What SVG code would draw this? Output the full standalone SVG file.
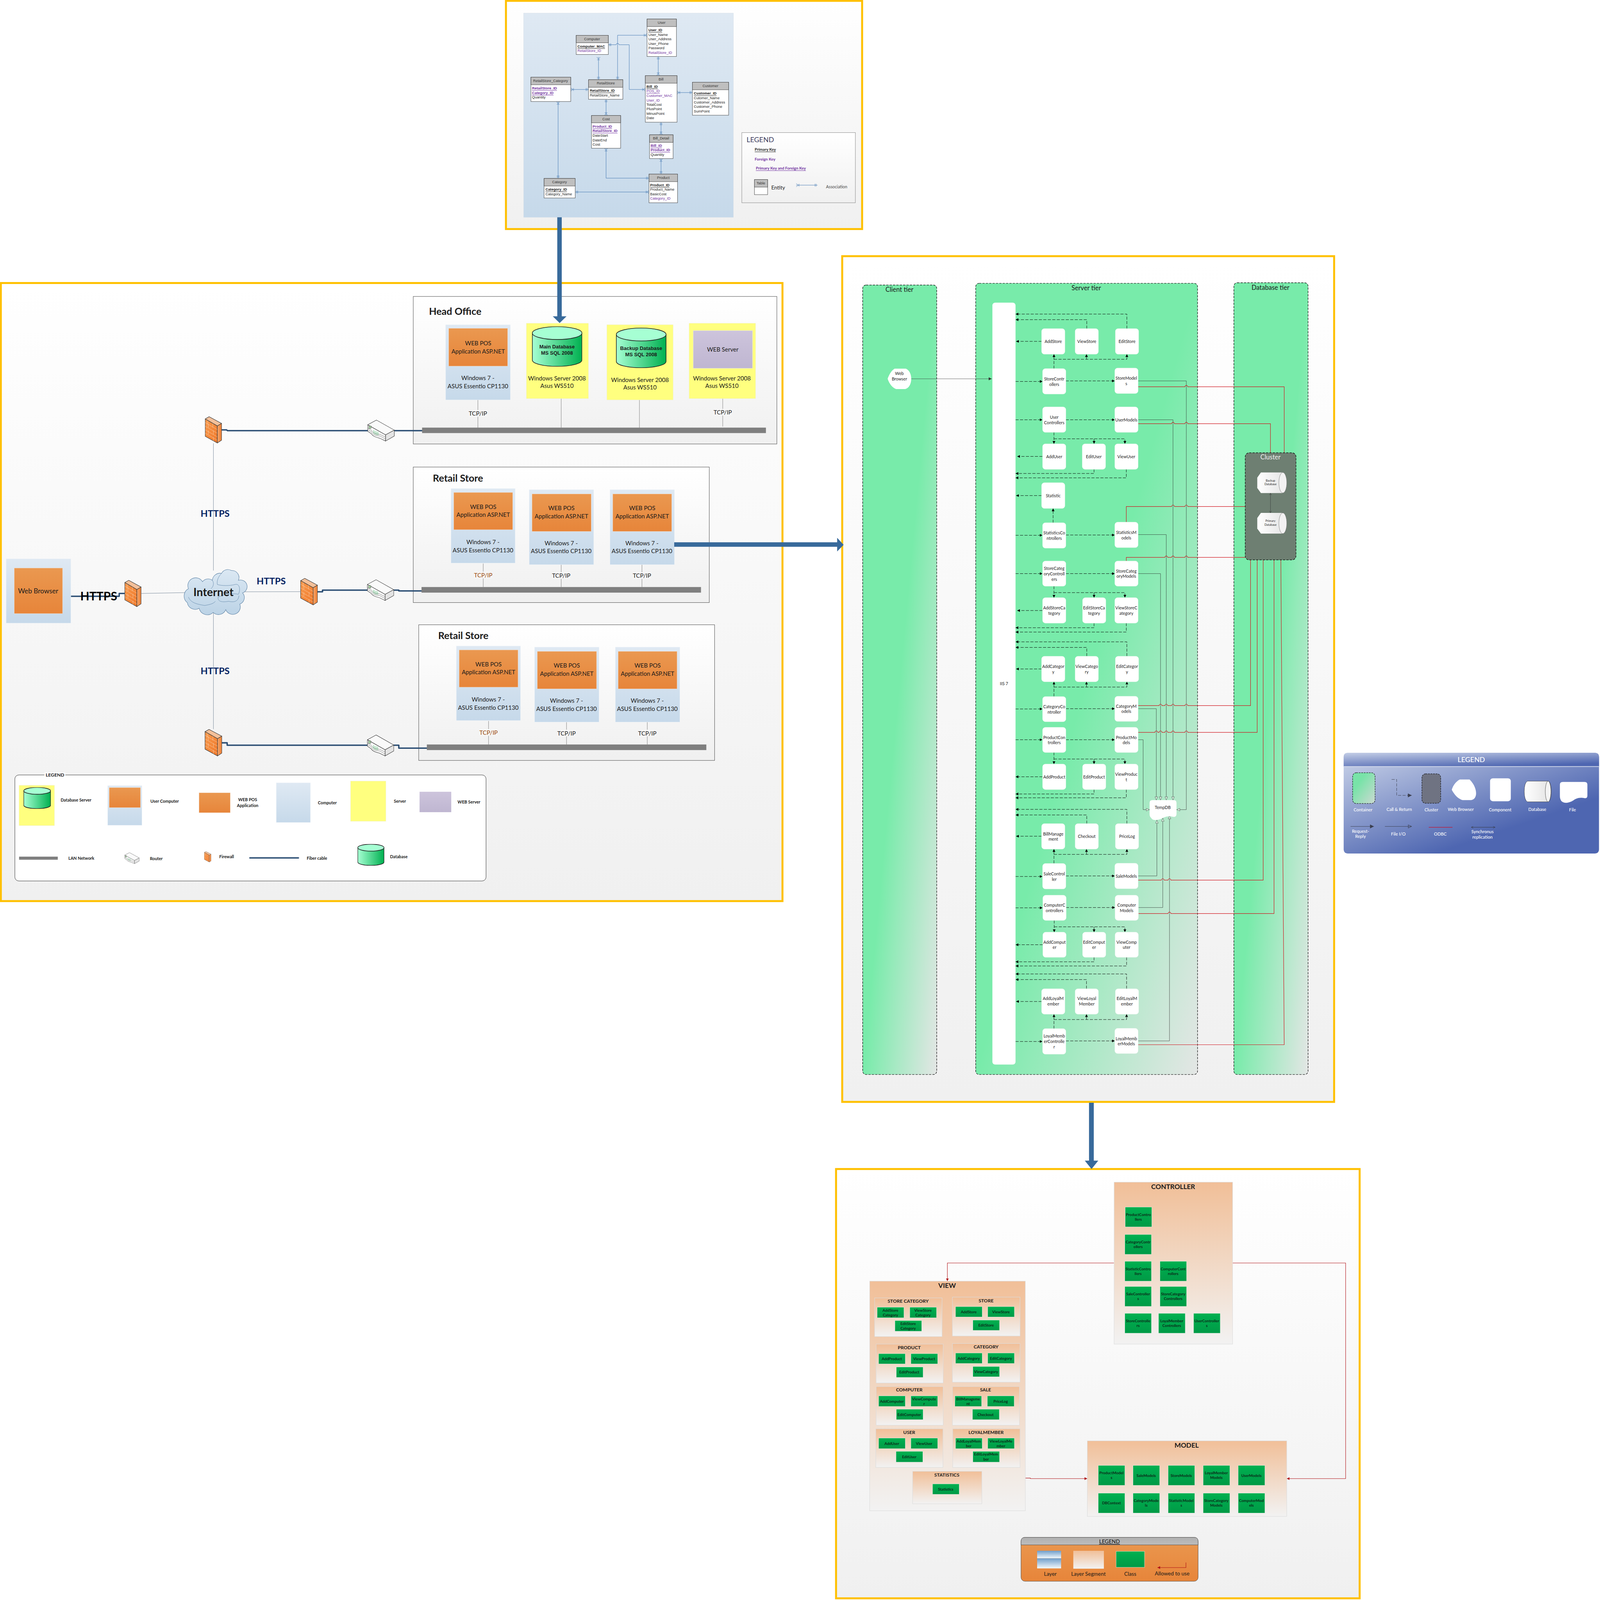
<svg xmlns="http://www.w3.org/2000/svg" width="5705" height="5721" viewBox="0 0 5705 5721" preserveAspectRatio="none">
<style>
:root{width:100vw;height:100vh}
text{font-family:Lato,"Liberation Sans",sans-serif;text-anchor:middle;dominant-baseline:central;fill:#1a1a1a}
.frame{stroke:#ffc000;stroke-width:7;fill:url(#gFrame)}
.zone{fill:url(#gFrame);stroke:#555;stroke-width:1.5}
.pc{fill:url(#gPc);stroke:#eef3f8;stroke-width:1}
.or{fill:url(#gOr);stroke:#f3d9c2;stroke-width:1}
.yl{fill:#ffff7f;stroke:#eeeecc;stroke-width:1}
.n{font-size:21px}
.nb{font-size:18px;font-weight:700;font-family:"Liberation Sans",sans-serif}
.lbl{font-size:21px}
.tit{font-size:35px;font-weight:700}
.https{font-size:33px;font-weight:700;fill:#002060}
.lg{font-size:15px;font-weight:700}
.tb{fill:#fff;stroke:#333;stroke-width:1.2}
.th{fill:#bfbfbf;stroke:#333;stroke-width:1.2}
.e{font-family:"Liberation Sans",sans-serif;font-size:13px;text-anchor:start}
.eh{font-family:"Liberation Sans",sans-serif;font-size:13px;fill:#333}
.pk{font-weight:700;text-decoration:underline}
.fk{fill:#7030a0}
.ul{text-decoration:underline}
.er{fill:none;stroke:#3f75b0;stroke-width:1.3;marker-start:var(--s);marker-end:var(--e)}
.lan{fill:#7f7f7f}
.fib{fill:none;stroke:#2a4d73;stroke-width:5;stroke-linecap:round;stroke-linejoin:round}
.thin{fill:none;stroke:#4a6079;stroke-width:1}
.tcp{fill:none;stroke:#555;stroke-width:1}
.bg{fill:#f6f6f6}
.tier{fill:url(#gTier);stroke:#000;stroke-width:1.6;stroke-dasharray:8 4}
.cp{fill:#fff;stroke:#eef7f1;stroke-width:1}
.c{font-size:15px}
.ds{fill:none;stroke:#000;stroke-width:1.3;stroke-dasharray:11 5;marker-end:url(#aB)}
.so{fill:none;stroke:#222;stroke-width:1;marker-end:url(#aH)}
.rd{fill:none;stroke:#d0141e;stroke-width:1.6}
.seg{fill:url(#gSeg);stroke:#dcdcdc;stroke-width:1.5}
.cl{fill:url(#gCl);stroke:#e4efe6;stroke-width:1}
.g{font-size:13.5px;font-weight:700;fill:#0b2a18}
.st{font-size:17px;font-weight:700}
.big{font-size:24px;font-weight:700}
.mv{fill:none;stroke:#b01116;stroke-width:1.5;marker-end:url(#aR)}
.w{fill:#fff;font-size:15.5px;font-weight:500}
.thick{fill:#386a9b}
</style>
<defs>
<linearGradient id="gFrame" x1="0" y1="0" x2="0" y2="1"><stop offset="0" stop-color="#fff"/><stop offset="1" stop-color="#f0f0f0"/></linearGradient>
<linearGradient id="gPc" x1="0" y1="0" x2="0" y2="1"><stop offset="0" stop-color="#dfe9f3"/><stop offset="1" stop-color="#c6d9ea"/></linearGradient>
<linearGradient id="gOr" x1="0" y1="0" x2="0" y2="1"><stop offset="0" stop-color="#ea9850"/><stop offset="1" stop-color="#e7853a"/></linearGradient>
<linearGradient id="gPu" x1="0" y1="0" x2="0" y2="1"><stop offset="0" stop-color="#cdc4dc"/><stop offset="1" stop-color="#bfb6d1"/></linearGradient>
<linearGradient id="gCy" x1="0" y1="0" x2="1" y2="0"><stop offset="0" stop-color="#a6ffd3"/><stop offset="1" stop-color="#00b050"/></linearGradient>
<linearGradient id="gTier" x1="0" y1="0" x2="1" y2="1"><stop offset="0.5" stop-color="#78ebaa"/><stop offset="1" stop-color="#e4e6e5"/></linearGradient>
<linearGradient id="gSeg" x1="0" y1="0" x2="0" y2="1"><stop offset="0" stop-color="#f1bf98"/><stop offset="1" stop-color="#f2f2f2"/></linearGradient>
<linearGradient id="gCl" x1="0" y1="0" x2="0" y2="1"><stop offset="0" stop-color="#00b050"/><stop offset="1" stop-color="#009a46"/></linearGradient>
<linearGradient id="gBl" x1="0" y1="0" x2="0.65" y2="0.75"><stop offset="0" stop-color="#ccd5ea"/><stop offset="1" stop-color="#4e66b1"/></linearGradient>
<linearGradient id="gBh" x1="0" y1="0" x2="0.6" y2="1"><stop offset="0" stop-color="#c3cde6"/><stop offset="1" stop-color="#4e66b1"/></linearGradient>
<linearGradient id="gLg" x1="0" y1="0" x2="1" y2="1"><stop offset="0.3" stop-color="#78e3a8"/><stop offset="1" stop-color="#ccd9d2"/></linearGradient>
<linearGradient id="gDb" x1="0" y1="0" x2="1" y2="0"><stop offset="0" stop-color="#fff"/><stop offset="1" stop-color="#e2e2e2"/></linearGradient>
<linearGradient id="gLy" x1="0" y1="0" x2="0" y2="1"><stop offset="0" stop-color="#6f9ecb"/><stop offset="1" stop-color="#f2f8fc"/></linearGradient>
<linearGradient id="gGy" x1="0" y1="0" x2="0" y2="1"><stop offset="0" stop-color="#b0b0b0"/><stop offset="1" stop-color="#bdbdbd"/></linearGradient>
<linearGradient id="gFw" x1="0" y1="0" x2="1" y2="1"><stop offset="0" stop-color="#f79a4e"/><stop offset="1" stop-color="#f0782a"/></linearGradient>
<linearGradient id="gFs" x1="0" y1="0" x2="1" y2="0"><stop offset="0" stop-color="#f5a76e"/><stop offset="1" stop-color="#ee7d30"/></linearGradient>
<linearGradient id="gCloud" x1="0" y1="0" x2="0" y2="1"><stop offset="0" stop-color="#dbe8f3"/><stop offset="1" stop-color="#bcd3e6"/></linearGradient>
<marker id="aB" viewBox="0 0 10 10" refX="10" refY="5" markerWidth="10" markerHeight="10" markerUnits="userSpaceOnUse" orient="auto"><path d="M0 0L10 5L0 10Z" fill="#000"/></marker>
<marker id="aS" viewBox="0 0 10 10" refX="10" refY="5" markerWidth="11" markerHeight="11" markerUnits="userSpaceOnUse" orient="auto"><path d="M0 0L10 5L0 10Z" fill="#333"/></marker>
<marker id="aH" viewBox="0 0 12 10" refX="12" refY="5" markerWidth="13" markerHeight="11" markerUnits="userSpaceOnUse" orient="auto"><path d="M1 0.5L11.5 5L1 9.5Z" fill="#d5ecdc" stroke="#333" stroke-width="0.8"/></marker>
<marker id="aR" viewBox="0 0 10 10" refX="10" refY="5" markerWidth="10" markerHeight="10" markerUnits="userSpaceOnUse" orient="auto"><path d="M0 0L10 5L0 10Z" fill="#b01116"/></marker>
<marker id="aW" viewBox="0 0 10 10" refX="10" refY="5" markerWidth="14" markerHeight="14" markerUnits="userSpaceOnUse" orient="auto"><path d="M0 0L10 5L0 10Z" fill="#3b3f4f"/></marker>
<marker id="aO" viewBox="0 0 10 10" refX="10" refY="5" markerWidth="14" markerHeight="14" markerUnits="userSpaceOnUse" orient="auto"><path d="M1 1L9.5 5L1 9Z" fill="none" stroke="#3b3f4f"/></marker>
<marker id="aL" viewBox="0 0 10 10" refX="9" refY="5" markerWidth="9" markerHeight="9" markerUnits="userSpaceOnUse" orient="auto-start-reverse"><path d="M1 1L9 5L1 9" fill="none" stroke="#333"/></marker>
<marker id="mOne" viewBox="0 0 14 14" refX="14" refY="7" markerWidth="14" markerHeight="14" markerUnits="userSpaceOnUse" orient="auto-start-reverse"><path d="M5 2V12M9 2V12" fill="none" stroke="#3f75b0" stroke-width="1.1"/></marker>
<marker id="mMany" viewBox="0 0 14 14" refX="14" refY="7" markerWidth="14" markerHeight="14" markerUnits="userSpaceOnUse" orient="auto-start-reverse"><path d="M14 1L6 7L14 13M4 2V12" fill="none" stroke="#3f75b0" stroke-width="1.1"/></marker>
<symbol id="fw" viewBox="0 0 60 96" preserveAspectRatio="none">
<path d="M15 1L59 25L44 34L1 9Z" fill="#f3c09a" stroke="#3b3b3b" stroke-width="1.6"/>
<path d="M1 9L44 34V95L1 71Z" fill="url(#gFw)" stroke="#3b3b3b" stroke-width="1.6"/>
<path d="M44 34L59 25V85L44 95Z" fill="url(#gFs)" stroke="#3b3b3b" stroke-width="1.6"/>
<path d="M1 22L44 47M1 35L44 60M1 48L44 73M1 60L44 85M10 15V28M28 25V40M12 27V40M30 50V64M12 50V64M30 74V88" fill="none" stroke="#fbe0c4" stroke-width="0.9"/>
</symbol>
<symbol id="rt" viewBox="0 0 96 77" preserveAspectRatio="none">
<path d="M32 1L95 37L64 54L1 18Z" fill="#fafafa" stroke="#333" stroke-width="1.4"/>
<path d="M95 37V58L64 76V54Z" fill="#e4e4e4" stroke="#333" stroke-width="1.4"/>
<path d="M1 18L64 54V76L44 66C30 62 20 60 14 50L1 41Z" fill="#fff" stroke="#333" stroke-width="1.4"/>
<path d="M1 30L14 37C20 48 30 52 44 52L64 62M1 35L14 43C20 54 30 57 44 58L64 69" fill="none" stroke="#444"/>
<rect x="5" y="22" width="8" height="9" fill="#a9d6a5" stroke="#333"/>
<path d="M22 37V49M26 39V52M30 41V54M34 42V55M38 43V55" stroke="#21a04a" fill="none"/>
</symbol>
<symbol id="cy" viewBox="0 0 180 144" preserveAspectRatio="none">
<path d="M1 24V120C1 133 41 143 90 143S179 133 179 120V24Z" fill="url(#gCy)" stroke="#222" stroke-width="1.6" vector-effect="non-scaling-stroke"/>
<ellipse cx="90" cy="24" rx="89" ry="23" fill="#a6ffd3" stroke="#222" stroke-width="1.6" vector-effect="non-scaling-stroke"/>
</symbol>
</defs>
<rect width="5705" height="5721" fill="#fff"/>

<g id="frames">
<rect class="frame" x="1804" y="3" width="1270" height="816"/>
<rect class="frame" x="3" y="1012" width="2787" height="2210"/>
<rect class="frame" x="3003" y="916" width="1754" height="3024"/>
<rect class="frame" x="2981" y="4180" width="1867" height="1535"/>
</g>

<!-- ER -->
<g id="er-panel"><rect x="1867" y="47" width="748" height="730" fill="url(#gPc)" stroke="#d5dee8"/></g>
<g id="er-connectors">
<path class="er" style="--s:url(#mOne);--e:url(#mMany)" d="M2169 160H2197a5 5 0 0 1 10 0H2243.6V320H2301"/>
<path class="er" style="--s:url(#mOne);--e:url(#mMany)" d="M2202 285V126H2307"/>
<path class="er" style="--s:url(#mMany);--e:url(#mOne)" d="M2134 204V285"/>
<path class="er" style="--s:url(#mOne);--e:url(#mMany)" d="M2347 202V270.5"/>
<path class="er" style="--s:url(#mMany);--e:url(#mOne)" d="M2035 320H2098.5"/>
<path class="er" style="--s:url(#mMany);--e:url(#mOne)" d="M2414 331H2469"/>
<path class="er" style="--s:url(#mOne);--e:url(#mMany)" d="M2161 355V413"/>
<path class="er" style="--s:url(#mOne);--e:url(#mMany)" d="M2357 437V482"/>
<path class="er" style="--s:url(#mMany);--e:url(#mOne)" d="M2357 567V622.5"/>
<path class="er" style="--s:url(#mMany);--e:url(#mOne)" d="M2161 530V637H2314"/>
<path class="er" style="--s:url(#mMany);--e:url(#mOne)" d="M1990 363V638"/>
<path class="er" style="--s:url(#mOne);--e:url(#mMany)" d="M2051 686.6H2314"/>
</g>
<g id="er-user"><rect class="tb" x="2307" y="68" width="105" height="134"/><rect class="th" x="2307" y="68" width="105" height="27"/><text class="eh" x="2359" y="81">User</text><text class="e pk" x="2312" y="108">User_ID</text><text class="e" x="2312" y="124">User_Name</text><text class="e" x="2312" y="140">User_Address</text><text class="e" x="2312" y="156">User_Phone</text><text class="e" x="2312" y="172">Password</text><text class="e fk" x="2312" y="188">RetailStore_ID</text></g>
<g id="er-computer"><rect class="tb" x="2054.5" y="126.5" width="114.5" height="68.5"/><rect class="th" x="2054.5" y="126.5" width="114.5" height="26.5"/><text class="eh" x="2111" y="139">Computer</text><text class="e pk" x="2059" y="166">Computer_MAC</text><text class="e fk" x="2059" y="181.6">RetailStore_ID</text></g>
<g id="er-rscat"><rect class="tb" x="1893" y="276" width="142" height="87"/><rect class="th" x="1893" y="276" width="142" height="27"/><text class="eh" x="1963" y="289.5">RetailStore_Category</text><text class="e pk fk" x="1897" y="316">RetailStore_ID</text><text class="e pk fk" x="1897" y="332.5">Category_ID</text><text class="e" x="1897" y="348">Quantity</text></g>
<g id="er-retailstore"><rect class="tb" x="2098.5" y="285" width="122.5" height="70"/><rect class="th" x="2098.5" y="285" width="122.5" height="27"/><text class="eh" x="2160" y="298">RetailStore</text><text class="e pk" x="2103" y="324.5">RetailStore_ID</text><text class="e" x="2103" y="340.5">RetailStore_Name</text></g>
<g id="er-bill"><rect class="tb" x="2301" y="270.5" width="113" height="166.5"/><rect class="th" x="2301" y="270.5" width="113" height="27"/><text class="eh" x="2357" y="283.5">Bill</text><text class="e pk" x="2305" y="310">Bill_ID</text><text class="e fk ul" x="2305" y="326">POS_ID</text><text class="e fk" x="2305" y="342.5">Customer_MAC</text><text class="e fk" x="2305" y="358.4">User_ID</text><text class="e" x="2305" y="374">TotalCost</text><text class="e" x="2305" y="390">PlusPoint</text><text class="e" x="2305" y="406">MinusPoint</text><text class="e" x="2305" y="422.5">Date</text></g>
<g id="er-customer"><rect class="tb" x="2469" y="294" width="129" height="118"/><rect class="th" x="2469" y="294" width="129" height="27"/><text class="eh" x="2533" y="307.5">Customer</text><text class="e pk" x="2474" y="334.5">Customer_ID</text><text class="e" x="2474" y="350.5">Cutomer_Name</text><text class="e" x="2474" y="366">Customer_Address</text><text class="e" x="2474" y="382">Customer_Phone</text><text class="e" x="2474" y="398">SumPoint</text></g>
<g id="er-cost"><rect class="tb" x="2109" y="413" width="104" height="117"/><rect class="th" x="2109" y="413" width="104" height="26"/><text class="eh" x="2161" y="426">Cost</text><text class="e pk fk" x="2113" y="452.6">Product_ID</text><text class="e pk fk" x="2113" y="468.5">RetailStore_ID</text><text class="e" x="2113" y="485">DateStart</text><text class="e" x="2113" y="501">DateEnd</text><text class="e" x="2113" y="516.7">Cost</text></g>
<g id="er-billdetail"><rect class="tb" x="2316" y="482" width="84" height="85"/><rect class="th" x="2316" y="482" width="84" height="27"/><text class="eh" x="2357" y="495">Bill_Detail</text><text class="e pk fk" x="2320" y="521.5">Bill_ID</text><text class="e pk fk" x="2320" y="537">Product_ID</text><text class="e" x="2320" y="553">Quantity</text></g>
<g id="er-product"><rect class="tb" x="2314" y="622.5" width="102" height="102.5"/><rect class="th" x="2314" y="622.5" width="102" height="27"/><text class="eh" x="2365" y="635.5">Product</text><text class="e pk" x="2318" y="662">Product_ID</text><text class="e" x="2318" y="678">Product_Name</text><text class="e" x="2318" y="694.5">BasicCost</text><text class="e fk" x="2318" y="710">Category_ID</text></g>
<g id="er-category"><rect class="tb" x="1940" y="638" width="111" height="70"/><rect class="th" x="1940" y="638" width="111" height="27"/><text class="eh" x="1995" y="651.5">Category</text><text class="e pk" x="1945" y="678">Category_ID</text><text class="e" x="1945" y="694.5">Category_Name</text></g>
<g id="er-legend">
<rect x="2645" y="474" width="405" height="251" fill="url(#gFrame)" stroke="#777" stroke-width="1.2"/>
<text x="2662" y="499" font-size="25" style="text-anchor:start;fill:#3b3b5c">LEGEND</text>
<text x="2691" y="534" font-size="14" font-weight="700" class="ul" style="text-anchor:start">Primary Key</text>
<text x="2691" y="568" font-size="14" font-weight="700" class="fk" style="text-anchor:start">Foreign Key</text>
<text x="2695" y="601" font-size="14" font-weight="700" class="fk ul" style="text-anchor:start">Primary Key and Foreign Key</text>
<rect class="tb" x="2690" y="642" width="47" height="54"/><rect class="th" x="2690" y="642" width="47" height="27"/>
<text class="eh" x="2713" y="655">Table</text>
<text x="2750" y="670" font-size="19" style="text-anchor:start">Entity</text>
<path class="er" style="--s:url(#mMany);--e:url(#mOne)" d="M2839 662H2915"/>
<text x="2983" y="667" font-size="15" fill="#444" style="fill:#444">Association</text>
</g>

<!-- Network -->
<g id="hq-zone"><rect class="zone" x="1473.5" y="1060" width="1296.5" height="527.5"/><text class="tit" x="1623" y="1111.5">Head Office</text></g>
<g id="rs1-zone"><rect class="zone" x="1473.5" y="1670" width="1055.5" height="484.5"/><text class="tit" x="1633" y="1708">Retail Store</text></g>
<g id="rs2-zone"><rect class="zone" x="1493" y="2234" width="1055" height="485"/><text class="tit" x="1652" y="2271">Retail Store</text></g>

<g id="net-connectors">
<path class="fib" d="M789 1537H808L811 1540H1311M1407 1540H1505"/>
<path class="fib" d="M1130 2116H1150V2110H1309M1405 2110H1422V2113H1503"/>
<path class="fib" d="M792 2656H810V2664.5H1309M1405 2664.5H1422V2675H1524"/>
<path class="fib" d="M250 2132H425V2122H444"/>
<path class="thin" d="M761 1585V2040M761 2190V2607M504 2122L659 2119M870 2116L1071 2115.6"/>
<path class="tcp" d="M1704 1430V1530M2001 1425V1530M2280 1430V1530M2577 1425V1525M1723 2015V2099M2001 2019V2099M2289 2019V2099M1742 2578V2662M2020 2582V2662M2308 2582V2662"/>
</g>
<g id="hq-pc"><rect class="pc" x="1589" y="1161" width="231" height="269"/><rect class="or" x="1600" y="1174" width="210" height="135"/><text class="n" x="1705" y="1226">WEB POS</text><text class="n" x="1705" y="1256">Application ASP.NET</text><text class="n" x="1704" y="1351">Windows 7 -</text><text class="n" x="1704" y="1380">ASUS Essentio CP1130</text></g>
<g id="hq-maindb"><rect class="yl" x="1877" y="1156" width="221" height="269"/><use href="#cy" x="1897" y="1167" width="179" height="144"/><text class="nb" x="1986" y="1239.5">Main Database</text><text class="nb" x="1986" y="1262">MS SQL 2008</text><text class="n" x="1986" y="1352">Windows Server 2008</text><text class="n" x="1986" y="1379">Asus WS510</text></g>
<g id="hq-backupdb"><rect class="yl" x="2164" y="1161" width="236" height="269"/><use href="#cy" x="2196.5" y="1172" width="179.5" height="144"/><text class="nb" x="2286" y="1245">Backup Database</text><text class="nb" x="2286" y="1268">MS SQL 2008</text><text class="n" x="2282" y="1358">Windows Server 2008</text><text class="n" x="2282" y="1384">Asus WS510</text></g>
<g id="hq-webserver"><rect class="yl" x="2457" y="1156" width="237" height="269"/><rect x="2472" y="1182" width="211" height="135" fill="url(#gPu)" stroke="#e9e6ef"/><text class="n" x="2577" y="1249">WEB Server</text><text class="n" x="2574" y="1352">Windows Server 2008</text><text class="n" x="2574" y="1378">Asus WS510</text></g>
<g id="hq-lan"><rect class="lan" x="1505" y="1529" width="1226" height="19.5"/></g>
<rect class="bg" x="1672" y="1466" width="64" height="24"/><text class="lbl" x="1704" y="1478">TCP/IP</text>
<rect class="bg" x="2545" y="1462" width="64" height="24"/><text class="lbl" x="2577" y="1474">TCP/IP</text>

<g id="rs1-pc1"><rect class="pc" x="1608" y="1747" width="229" height="266.5"/><rect class="or" x="1618" y="1761" width="210" height="133"/><text class="n" x="1723" y="1812">WEB POS</text><text class="n" x="1723" y="1840">Application ASP.NET</text><text class="n" x="1722" y="1937">Windows 7 -</text><text class="n" x="1722" y="1966">ASUS Essentio CP1130</text></g>
<g id="rs1-pc2"><rect class="pc" x="1887" y="1751" width="230" height="268"/><rect class="or" x="1897" y="1766" width="211" height="134"/><text class="n" x="2002" y="1816">WEB POS</text><text class="n" x="2002" y="1845">Application ASP.NET</text><text class="n" x="2001" y="1942">Windows 7 -</text><text class="n" x="2001" y="1970">ASUS Essentio CP1130</text></g>
<g id="rs1-pc3"><rect class="pc" x="2175" y="1751" width="230" height="268"/><rect class="or" x="2185" y="1766" width="210" height="134"/><text class="n" x="2290" y="1816">WEB POS</text><text class="n" x="2290" y="1845">Application ASP.NET</text><text class="n" x="2289" y="1942">Windows 7 -</text><text class="n" x="2289" y="1970">ASUS Essentio CP1130</text></g>
<g id="rs1-lan"><rect class="lan" x="1503" y="2099" width="996.5" height="20"/></g>
<rect class="bg" x="1691" y="2044" width="64" height="24"/><text class="lbl" style="fill:#984806" x="1723" y="2056">TCP/IP</text>
<rect class="bg" x="1969" y="2046" width="64" height="24"/><text class="lbl" x="2001" y="2058">TCP/IP</text>
<rect class="bg" x="2257" y="2046" width="64" height="24"/><text class="lbl" x="2289" y="2058">TCP/IP</text>

<g id="rs2-pc1"><rect class="pc" x="1627" y="2310" width="229" height="266.5"/><rect class="or" x="1637" y="2324" width="210" height="133"/><text class="n" x="1742" y="2375">WEB POS</text><text class="n" x="1742" y="2403">Application ASP.NET</text><text class="n" x="1741" y="2500">Windows 7 -</text><text class="n" x="1741" y="2529">ASUS Essentio CP1130</text></g>
<g id="rs2-pc2"><rect class="pc" x="1906" y="2314" width="230" height="268"/><rect class="or" x="1916" y="2329" width="211" height="134"/><text class="n" x="2021" y="2379">WEB POS</text><text class="n" x="2021" y="2408">Application ASP.NET</text><text class="n" x="2020" y="2505">Windows 7 -</text><text class="n" x="2020" y="2533">ASUS Essentio CP1130</text></g>
<g id="rs2-pc3"><rect class="pc" x="2194" y="2314" width="230" height="268"/><rect class="or" x="2204" y="2329" width="210" height="134"/><text class="n" x="2309" y="2379">WEB POS</text><text class="n" x="2309" y="2408">Application ASP.NET</text><text class="n" x="2308" y="2505">Windows 7 -</text><text class="n" x="2308" y="2533">ASUS Essentio CP1130</text></g>
<g id="rs2-lan"><rect class="lan" x="1522" y="2662" width="996.5" height="20"/></g>
<rect class="bg" x="1710" y="2607" width="64" height="24"/><text class="lbl" style="fill:#984806" x="1742" y="2619">TCP/IP</text>
<rect class="bg" x="1988" y="2609" width="64" height="24"/><text class="lbl" x="2020" y="2621">TCP/IP</text>
<rect class="bg" x="2276" y="2609" width="64" height="24"/><text class="lbl" x="2308" y="2621">TCP/IP</text>

<g id="fw-top"><use href="#fw" x="730.6" y="1489" width="60.4" height="96"/></g>
<g id="fw-left"><use href="#fw" x="444" y="2074" width="60" height="96"/></g>
<g id="fw-mid"><use href="#fw" x="1071" y="2067" width="62" height="97"/></g>
<g id="fw-bottom"><use href="#fw" x="730" y="2607" width="62" height="97"/></g>
<g id="router-top"><use href="#rt" x="1310" y="1501" width="97" height="77"/></g>
<g id="router-mid"><use href="#rt" x="1309" y="2072" width="96" height="76"/></g>
<g id="router-bottom"><use href="#rt" x="1309" y="2627" width="96" height="77"/></g>
<g id="internet">
<path d="M668 2155A30 30 0 0 1 672 2105A28 28 0 0 1 722 2080A25 25 0 0 1 757 2075A28 28 0 0 1 790 2050A25 25 0 0 1 825 2040A25 25 0 0 1 850 2075A22 22 0 0 1 865 2120A25 25 0 0 1 855 2160A25 25 0 0 1 805 2180A28 28 0 0 1 760 2190A30 30 0 0 1 710 2175A28 28 0 0 1 668 2155Z" fill="url(#gCloud)" stroke="#5f85a8" stroke-width="1.5"/>
<path d="M757 2075C765 2085 760 2100 752 2105M790 2050C780 2060 772 2075 775 2090C790 2095 820 2095 838 2090M838 2090C855 2085 858 2110 850 2125C830 2120 800 2125 778 2135M778 2135C775 2150 790 2155 815 2150C835 2155 850 2150 852 2130M672 2135C680 2155 700 2160 730 2165C745 2162 760 2160 768 2150" fill="none" stroke="#5f85a8" stroke-width="1.2"/>
<text x="761" y="2116" font-size="40" font-weight="700">Internet</text>
</g>
<g id="browser-pc"><rect class="pc" x="22" y="1998" width="230.5" height="230"/><rect class="or" x="51" y="2031" width="172" height="163"/><text x="136" y="2112" font-size="24">Web Browser</text></g>
<text x="352" y="2130" font-size="42" font-weight="700" style="fill:#000">HTTPS</text>
<text class="https" x="967" y="2077">HTTPS</text>
<text class="https" x="767" y="2398">HTTPS</text>
<text class="https" x="767" y="1835">HTTPS</text>

<g id="net-legend">
<rect x="53" y="2771" width="1680" height="379" rx="14" fill="#fff" stroke="#222" stroke-width="1.3"/>
<rect x="158" y="2762" width="75" height="18" fill="#fff"/>
<text x="196" y="2770" font-size="17" font-weight="700">LEGEND</text>
<rect class="yl" x="68" y="2808" width="126" height="144"/><use href="#cy" x="84" y="2815" width="97" height="77"/>
<text class="lg" x="271" y="2860">Database Server</text>
<rect class="pc" x="384" y="2809" width="122" height="142"/><rect class="or" x="389.5" y="2816" width="111.5" height="71.6"/>
<text class="lg" x="587" y="2863.5">User Computer</text>
<rect class="or" x="709.5" y="2834.5" width="111.5" height="71.5"/>
<text class="lg" x="883" y="2859">WEB POS</text><text class="lg" x="883" y="2879">Application</text>
<rect class="pc" x="985" y="2799" width="122" height="142"/>
<text class="lg" x="1167" y="2869">Computer</text>
<rect class="yl" x="1250" y="2793" width="126" height="143.5"/>
<text class="lg" x="1426" y="2864">Server</text>
<rect x="1496" y="2831" width="113" height="73" fill="url(#gPu)"/>
<text class="lg" x="1672" y="2867">WEB Server</text>
<rect class="lan" x="68" y="3063" width="138" height="11"/>
<text class="lg" x="290" y="3068">LAN Network</text>
<use href="#rt" x="444" y="3048" width="53" height="41"/>
<text class="lg" x="557" y="3069">Router</text>
<use href="#fw" x="728" y="3044" width="25" height="39"/>
<text class="lg" x="808" y="3063">Firewall</text>
<path class="fib" d="M891 3067.5H1064"/>
<text class="lg" x="1130" y="3067.5">Fiber cable</text>
<use href="#cy" x="1275" y="3018" width="95" height="77"/>
<text class="lg" x="1422" y="3063">Database</text>
</g>

<!-- Tiers -->
<g id="client-tier"><rect class="tier" x="3076" y="1019" width="264" height="2823" rx="12"/><text x="3207" y="1035" font-size="23">Client tier</text></g>
<g id="server-tier"><rect class="tier" x="3479" y="1013" width="791" height="2829" rx="12"/><text x="3873" y="1029" font-size="23">Server tier</text></g>
<g id="database-tier"><rect class="tier" x="4399.5" y="1011" width="264.5" height="2831" rx="12"/><text x="4530" y="1028" font-size="23">Database tier</text></g>

<g id="tier-connectors">
<path d="M3249 1354.5H3536" fill="none" stroke="#333" stroke-width="1" marker-end="url(#aS)"/>
<path class="ds" d="M4018 1175V1123H3621"/><path class="ds" d="M3875 1175V1143H3621"/><path class="ds" d="M3714 1220.6H3623"/><path class="ds" d="M3758 1318V1266.5"/><path class="ds" d="M3758 1284.7H4018V1266.5"/><path class="ds" d="M3874 1284.7V1266.5"/><path class="ds" d="M3621 1364H3717.5"/><path class="ds" d="M3800 1362H3975"/>
<path class="ds" d="M3621 1501H3717"/><path class="ds" d="M3800 1501H3975"/><path class="ds" d="M3758 1546V1587"/><path class="ds" d="M3758 1569H4011V1587"/><path class="ds" d="M3901 1569V1587"/><path class="ds" d="M3717 1632H3627"/><path class="ds" d="M3901 1678V1693H3621"/><path class="ds" d="M4016 1678V1708.6H3621"/>
<path class="ds" d="M3714 1772H3623"/><path class="ds" d="M3755 1869V1818"/><path class="ds" d="M3621 1914H3717"/><path class="ds" d="M3800 1913H3975"/>
<path class="ds" d="M3621 2051H3717"/><path class="ds" d="M3800 2051H3975"/><path class="ds" d="M3758 2096V2137"/><path class="ds" d="M3758 2119H4011V2137"/><path class="ds" d="M3901 2119V2137"/><path class="ds" d="M3717 2183H3627"/><path class="ds" d="M3901 2228V2244.5H3621"/><path class="ds" d="M4016 2228V2260H3621"/>
<path class="ds" d="M4018 2346V2295H3621"/><path class="ds" d="M3875 2346V2315H3621"/><path class="ds" d="M3714 2392H3623"/><path class="ds" d="M3758 2490V2437.6"/><path class="ds" d="M3758 2456.7H4018V2437.6"/><path class="ds" d="M3874 2456.7V2437.6"/><path class="ds" d="M3621 2535H3717"/><path class="ds" d="M3800 2534H3975"/>
<path class="ds" d="M3621 2645H3717"/><path class="ds" d="M3800 2645H3975"/><path class="ds" d="M3758 2690V2732"/><path class="ds" d="M3758 2714H4011V2732"/><path class="ds" d="M3901 2714V2732"/><path class="ds" d="M3717 2777.5H3621"/><path class="ds" d="M3901 2823V2839H3621"/><path class="ds" d="M4016 2823V2852.6H3621"/>
<path class="ds" d="M4018 2945V2894H3621"/><path class="ds" d="M3875 2945V2914H3621"/><path class="ds" d="M3714 2990H3623"/><path class="ds" d="M3758 3087V3036"/><path class="ds" d="M3758 3055H4018V3036"/><path class="ds" d="M3874 3055V3036"/><path class="ds" d="M3621 3134H3717"/><path class="ds" d="M3800 3132H3975"/>
<path class="ds" d="M3621 3246H3717.5"/><path class="ds" d="M3801 3245H3976"/><path class="ds" d="M3759 3291V3333"/><path class="ds" d="M3759 3314H4011V3333"/><path class="ds" d="M3901 3314V3333"/><path class="ds" d="M3718 3378H3621"/><path class="ds" d="M3901 3423V3439H3621"/><path class="ds" d="M4017 3423V3454H3621"/>
<path class="ds" d="M4017 3535V3482.5H3621"/><path class="ds" d="M3874 3535V3502.6H3621"/><path class="ds" d="M3714 3581H3623"/><path class="ds" d="M3758 3678V3626.5"/><path class="ds" d="M3758 3645.5H4017V3626.5"/><path class="ds" d="M3874 3645.5V3626.5"/><path class="ds" d="M3621 3724H3717"/><path class="ds" d="M3800 3722H3975"/>
<path class="so" d="M4057 1362H4230V2895H4195"/><path class="so" d="M4057 1501H4182.5V2861"/><path class="so" d="M4057 1911.5H4158.5V2861"/><path class="so" d="M4057 2051H4138V2861"/><path class="so" d="M4057 2534H4123V2861"/><path class="so" d="M4057 2645H4076V2895H4099"/><path class="so" d="M4057 3132H4125V2932"/><path class="so" d="M4058 3245H4146V2925"/><path class="so" d="M4057 3722H4170V2916"/>
<path class="rd" d="M4057 1383H4225a5 5 0 0 1 10 0H4579V1620"/>
<path class="rd" d="M4057 1515H4177.5a5 5 0 0 1 10 0H4225a5 5 0 0 1 10 0H4530V1620"/>
<path class="rd" d="M4016 1867V1811H4177.5a5 5 0 0 1 10 0H4225a5 5 0 0 1 10 0H4441"/>
<path class="rd" d="M4016 2006V1993H4153.5a5 5 0 0 1 10 0H4177.5a5 5 0 0 1 10 0H4225a5 5 0 0 1 10 0H4441"/>
<path class="rd" d="M4057 2523H4133a5 5 0 0 1 10 0H4153.5a5 5 0 0 1 10 0H4177.5a5 5 0 0 1 10 0H4225a5 5 0 0 1 10 0H4459V2002"/>
<path class="rd" d="M4057 2618.6H4118a5 5 0 0 1 10 0H4133a5 5 0 0 1 10 0H4153.5a5 5 0 0 1 10 0H4177.5a5 5 0 0 1 10 0H4225a5 5 0 0 1 10 0H4482.7V2002"/>
<path class="rd" d="M4057 3147H4141a5 5 0 0 1 10 0H4165a5 5 0 0 1 10 0H4504V2002"/>
<path class="rd" d="M4057 3266.5H4165a5 5 0 0 1 10 0H4542.7V2002"/>
<path class="rd" d="M4057 3735.5H4579L4567 2002"/>
</g>

<g id="iis"><rect x="3538.5" y="1082" width="82.5" height="2724.5" rx="10" fill="#fff"/><text class="c" x="3580" y="2444">IIS 7</text></g>
<g id="web-browser"><path d="M3190 1318H3230C3246 1325 3250 1345 3249 1358C3248 1375 3240 1388 3228 1391H3195C3180 1385 3170 1370 3165 1354C3170 1340 3178 1325 3190 1318Z" fill="#fff"/><text class="c" x="3207" y="1334">Web</text><text class="c" x="3207" y="1353.6">Browser</text></g>

<g id="addstore"><rect class="cp" x="3714" y="1175" width="83" height="91.5" rx="10"/><text class="c" x="3755.5" y="1220.6">AddStore</text></g>
<g id="viewstore"><rect class="cp" x="3833.5" y="1175" width="83" height="91.5" rx="10"/><text class="c" x="3875" y="1220.6">ViewStore</text></g>
<g id="editstore"><rect class="cp" x="3977" y="1175" width="83" height="91.5" rx="10"/><text class="c" x="4018.5" y="1220.6">EditStore</text></g>
<g id="storecontrollers"><rect class="cp" x="3717.5" y="1318" width="83" height="91" rx="10"/><text class="c" x="3759" y="1354">StoreContr</text><text class="c" x="3759" y="1373">ollers</text></g>
<g id="storemodels"><rect class="cp" x="3975" y="1316" width="83" height="91" rx="10"/><text class="c" x="4016" y="1352">StoreModel</text><text class="c" x="4016" y="1371">s</text></g>
<g id="usercontrollers"><rect class="cp" x="3717.5" y="1455" width="83" height="91" rx="10"/><text class="c" x="3759" y="1491">User</text><text class="c" x="3759" y="1510">Controllers</text></g>
<g id="usermodels"><rect class="cp" x="3975" y="1455" width="83" height="91" rx="10"/><text class="c" x="4016" y="1500.5">UserModels</text></g>
<g id="adduser"><rect class="cp" x="3717.5" y="1587" width="83" height="91" rx="10"/><text class="c" x="3759" y="1632">AddUser</text></g>
<g id="edituser"><rect class="cp" x="3859" y="1587" width="83" height="91" rx="10"/><text class="c" x="3900" y="1632">EditUser</text></g>
<g id="viewuser"><rect class="cp" x="3975" y="1587" width="83" height="91" rx="10"/><text class="c" x="4016" y="1632">ViewUser</text></g>
<g id="statistic"><rect class="cp" x="3714" y="1726" width="83" height="92" rx="10"/><text class="c" x="3755.5" y="1772">Statistic</text></g>
<g id="statcontrollers"><rect class="cp" x="3717.5" y="1869" width="83" height="91" rx="10"/><text class="c" x="3759" y="1905">StatisticsCo</text><text class="c" x="3759" y="1924">ntrollers</text></g>
<g id="statmodels"><rect class="cp" x="3975" y="1867" width="83" height="91" rx="10"/><text class="c" x="4016" y="1903">StatisticsM</text><text class="c" x="4016" y="1922">odels</text></g>
<g id="storecatcontrollers"><rect class="cp" x="3717.5" y="2006" width="83" height="90" rx="10"/><text class="c" x="3759" y="2032">StoreCateg</text><text class="c" x="3759" y="2051">oryControll</text><text class="c" x="3759" y="2070">ers</text></g>
<g id="storecatmodels"><rect class="cp" x="3975" y="2006" width="83" height="90" rx="10"/><text class="c" x="4016" y="2041">StoreCateg</text><text class="c" x="4016" y="2060">oryModels</text></g>
<g id="addstorecat"><rect class="cp" x="3717.5" y="2137" width="83" height="91" rx="10"/><text class="c" x="3759" y="2173">AddStoreCa</text><text class="c" x="3759" y="2192">tegory</text></g>
<g id="editstorecat"><rect class="cp" x="3860" y="2137" width="83" height="91" rx="10"/><text class="c" x="3901" y="2173">EditStoreCa</text><text class="c" x="3901" y="2192">tegory</text></g>
<g id="viewstorecat"><rect class="cp" x="3975" y="2137" width="83" height="91" rx="10"/><text class="c" x="4016" y="2173">ViewStoreC</text><text class="c" x="4016" y="2192">ategory</text></g>
<g id="addcat"><rect class="cp" x="3714" y="2346.6" width="83" height="91" rx="10"/><text class="c" x="3755.5" y="2382">AddCategor</text><text class="c" x="3755.5" y="2401">y</text></g>
<g id="viewcat"><rect class="cp" x="3833.5" y="2346.6" width="83" height="91" rx="10"/><text class="c" x="3875" y="2382">ViewCatego</text><text class="c" x="3875" y="2401">ry</text></g>
<g id="editcat"><rect class="cp" x="3977" y="2346.6" width="83" height="91" rx="10"/><text class="c" x="4018.5" y="2382">EditCategor</text><text class="c" x="4018.5" y="2401">y</text></g>
<g id="catcontroller"><rect class="cp" x="3717.5" y="2490.6" width="83" height="90" rx="10"/><text class="c" x="3759" y="2526">CategoryCo</text><text class="c" x="3759" y="2545">ntroller</text></g>
<g id="catmodels"><rect class="cp" x="3975" y="2489.5" width="83" height="90" rx="10"/><text class="c" x="4016" y="2525">CategoryM</text><text class="c" x="4016" y="2543">odels</text></g>
<g id="prodcontrollers"><rect class="cp" x="3717.5" y="2600.6" width="83" height="90" rx="10"/><text class="c" x="3759" y="2636">ProductCon</text><text class="c" x="3759" y="2655">trollers</text></g>
<g id="prodmodels"><rect class="cp" x="3975" y="2600.6" width="83" height="90" rx="10"/><text class="c" x="4016" y="2636">ProductMo</text><text class="c" x="4016" y="2655">dels</text></g>
<g id="addprod"><rect class="cp" x="3717.5" y="2732" width="83" height="91" rx="10"/><text class="c" x="3759" y="2777.5">AddProduct</text></g>
<g id="editprod"><rect class="cp" x="3860" y="2732" width="83" height="91" rx="10"/><text class="c" x="3901" y="2777.5">EditProduct</text></g>
<g id="viewprod"><rect class="cp" x="3975" y="2732" width="83" height="91" rx="10"/><text class="c" x="4016" y="2768">ViewProduc</text><text class="c" x="4016" y="2787">t</text></g>
<g id="billmgmt"><rect class="cp" x="3714" y="2945" width="83" height="91" rx="10"/><text class="c" x="3755.5" y="2981">BillManage</text><text class="c" x="3755.5" y="3000">ment</text></g>
<g id="checkout"><rect class="cp" x="3833.5" y="2945" width="83" height="91" rx="10"/><text class="c" x="3875" y="2990">Checkout</text></g>
<g id="pricelog"><rect class="cp" x="3977" y="2945" width="83" height="91" rx="10"/><text class="c" x="4018.5" y="2990">PriceLog</text></g>
<g id="salecontroller"><rect class="cp" x="3717.5" y="3087.6" width="83" height="91" rx="10"/><text class="c" x="3759" y="3124">SaleControl</text><text class="c" x="3759" y="3143">ler</text></g>
<g id="salemodels"><rect class="cp" x="3975" y="3086.6" width="83" height="91" rx="10"/><text class="c" x="4016" y="3132">SaleModels</text></g>
<g id="compcontrollers"><rect class="cp" x="3718.5" y="3201" width="83" height="90" rx="10"/><text class="c" x="3760" y="3236">ComputerC</text><text class="c" x="3760" y="3255">ontrollers</text></g>
<g id="compmodels"><rect class="cp" x="3976" y="3201" width="83" height="90" rx="10"/><text class="c" x="4017" y="3236">Computer</text><text class="c" x="4017" y="3255">Models</text></g>
<g id="addcomp"><rect class="cp" x="3718.5" y="3333" width="83" height="90" rx="10"/><text class="c" x="3760" y="3368">AddComput</text><text class="c" x="3760" y="3387">er</text></g>
<g id="editcomp"><rect class="cp" x="3860" y="3333" width="83" height="90" rx="10"/><text class="c" x="3901" y="3368">EditComput</text><text class="c" x="3901" y="3387">er</text></g>
<g id="viewcomp"><rect class="cp" x="3976" y="3333" width="83" height="90" rx="10"/><text class="c" x="4017" y="3368">ViewComp</text><text class="c" x="4017" y="3387">uter</text></g>
<g id="addloyal"><rect class="cp" x="3714" y="3535.4" width="83" height="91" rx="10"/><text class="c" x="3755.5" y="3570">AddLoyalM</text><text class="c" x="3755.5" y="3589">ember</text></g>
<g id="viewloyal"><rect class="cp" x="3833.5" y="3535.4" width="83" height="91" rx="10"/><text class="c" x="3875" y="3570">ViewLoyal</text><text class="c" x="3875" y="3589">Member</text></g>
<g id="editloyal"><rect class="cp" x="3977" y="3535.4" width="83" height="91" rx="10"/><text class="c" x="4018" y="3570">EditLoyalM</text><text class="c" x="4018" y="3589">ember</text></g>
<g id="loyalcontroller"><rect class="cp" x="3717.5" y="3678" width="83" height="91.4" rx="10"/><text class="c" x="3759" y="3704">LoyalMemb</text><text class="c" x="3759" y="3723">erControlle</text><text class="c" x="3759" y="3742">r</text></g>
<g id="loyalmodels"><rect class="cp" x="3975" y="3677" width="83" height="90" rx="10"/><text class="c" x="4016" y="3713">LoyalMemb</text><text class="c" x="4016" y="3732">erModels</text></g>
<g id="tempdb"><path d="M4109 2861H4185Q4195 2861 4195 2871V2910Q4195 2921 4185 2921C4165 2915 4150 2922 4140 2928C4125 2934 4110 2934 4105 2925Q4099 2920 4099 2912V2871Q4099 2861 4109 2861Z" fill="#fff"/><text class="c" x="4146" y="2886.5">TempDB</text></g>

<g id="cluster">
<rect x="4440" y="1619" width="181" height="383" rx="14" fill="#6e7f72" stroke="#000" stroke-width="1.6" stroke-dasharray="8 4"/>
<text x="4530" y="1634" font-size="23" style="fill:#f2f2f2">Cluster</text>
<path d="M4530 1763V1834" fill="none" stroke="#333" stroke-width="1" marker-start="url(#aL)" marker-end="url(#aL)"/>
<g id="backup-database"><path d="M4496 1689.5H4573A15 36.5 0 0 1 4573 1763H4496L4483 1745V1708Z" fill="url(#gDb)"/><ellipse cx="4574" cy="1726" rx="14" ry="36.5" fill="#f2f2f2" stroke="#666" stroke-width="1"/><text x="4530" y="1718" font-size="10.5">Backup</text><text x="4530" y="1731.5" font-size="10.5">Database</text></g>
<g id="primary-database"><path d="M4496 1834H4573A15 37 0 0 1 4573 1908H4496L4483 1890V1852Z" fill="url(#gDb)"/><ellipse cx="4574" cy="1871" rx="14" ry="37" fill="#f2f2f2" stroke="#666" stroke-width="1"/><text x="4530" y="1863" font-size="10.5">Primary</text><text x="4530" y="1876" font-size="10.5">Database</text></g>
</g>

<g id="tier-legend">
<rect x="4791" y="2692" width="910.5" height="360" rx="14" fill="url(#gBl)"/>
<path d="M4791 2741V2706Q4791 2692 4805 2692H5687.5Q5701.5 2692 5701.5 2706V2741Z" fill="url(#gBh)"/>
<path d="M4791 2741H5701.5" stroke="#d9dfee" stroke-width="2.5"/>
<text x="5246" y="2715" font-size="25" font-weight="500" style="fill:#fff">LEGEND</text>
<rect x="4823" y="2763" width="80" height="110" rx="13" fill="url(#gLg)" stroke="#000" stroke-width="1.4" stroke-dasharray="6 3"/>
<text class="w" x="4860" y="2895">Container</text>
<path d="M4962 2787H4980V2844H5034" fill="none" stroke="#3b3f4f" stroke-width="1.3" stroke-dasharray="11 5" marker-end="url(#aW)"/>
<text class="w" x="4989" y="2894">Call &amp; Return</text>
<rect x="5070" y="2767" width="67" height="105" rx="13" fill="#6f7382" stroke="#000" stroke-width="1.4" stroke-dasharray="6 3"/>
<text class="w" x="5103.6" y="2895">Cluster</text>
<path d="M5205 2787H5240C5258 2805 5264 2825 5263 2840C5262 2852 5255 2860 5245 2861H5215C5195 2855 5182 2835 5176.5 2824C5180 2810 5190 2795 5205 2787Z" fill="#fff"/>
<text class="w" x="5208.5" y="2894">Web Browser</text>
<rect x="5313" y="2783" width="74" height="82" rx="10" fill="#fff"/>
<text class="w" x="5349" y="2895">Component</text>
<path d="M5446 2793H5520A11 37 0 0 1 5520 2867H5446Q5435 2860 5435 2830Q5435 2800 5446 2793Z" fill="url(#gDb)" stroke="#222"/><ellipse cx="5520" cy="2830" rx="10" ry="37" fill="#f4f4f4" stroke="#222"/>
<text class="w" x="5481.5" y="2894">Database</text>
<path d="M5572 2796H5650Q5660 2796 5660 2806V2845Q5660 2855 5650 2854C5630 2850 5620 2855 5610 2862C5590 2875 5570 2872 5565 2860Q5562 2855 5562 2846V2806Q5562 2796 5572 2796Z" fill="#fff"/>
<text class="w" x="5607" y="2895">File</text>
<path d="M4815.5 2955H4899" fill="none" stroke="#3b3f4f" stroke-width="1.3" marker-end="url(#aW)"/>
<text class="w" x="4851" y="2971">Request-</text><text class="w" x="4851" y="2990">Reply</text>
<path d="M4938 2955H5034" fill="none" stroke="#3b3f4f" stroke-width="1.3" marker-end="url(#aO)"/>
<text class="w" x="4986" y="2980.7">File I/O</text>
<path d="M5094.5 2958H5179" stroke="#c8102e" stroke-width="1.6"/>
<text class="w" x="5135.5" y="2982">ODBC</text>
<path d="M5246 2958H5331" fill="none" stroke="#333" stroke-width="1.2" marker-start="url(#aL)" marker-end="url(#aL)"/>
<text class="w" x="5286" y="2973">Synchronus</text><text class="w" x="5286" y="2992">replication</text>
</g>

<!-- MVC -->
<g id="mvc-connectors">
<path class="mv" d="M3972 4516H3378V4581"/>
<path class="mv" d="M3656 5285H3674V5287H3877"/>
<path class="mv" d="M4395 4516H4798V5287H4588"/>
</g>
<g id="view-layer">
<rect class="seg" x="3101" y="4581" width="555" height="821"/>
<text class="big" x="3377" y="4596">VIEW</text>
<g id="v-storecat"><rect class="seg" x="3118.6" y="4641" width="240.4" height="138"/><text class="st" x="3238" y="4652">STORE CATEGORY</text>
<rect class="cl" x="3127.7" y="4674" width="95.3" height="38"/><text class="g" x="3175" y="4684">AddStore</text><text class="g" x="3175" y="4701">Category</text>
<rect class="cl" x="3244" y="4674" width="95.3" height="38"/><text class="g" x="3291" y="4684">ViewStore</text><text class="g" x="3291" y="4701">Category</text>
<rect class="cl" x="3191" y="4722" width="95.3" height="38"/><text class="g" x="3238" y="4732">EditStore</text><text class="g" x="3238" y="4749">Category</text></g>
<g id="v-store"><rect class="seg" x="3396" y="4638" width="241" height="139"/><text class="st" x="3516" y="4650">STORE</text>
<rect class="cl" x="3407" y="4672" width="95" height="37"/><text class="g" x="3454" y="4690">AddStore</text>
<rect class="cl" x="3522" y="4672" width="95" height="37"/><text class="g" x="3569" y="4690">ViewStore</text>
<rect class="cl" x="3469" y="4720" width="95" height="37"/><text class="g" x="3516" y="4738">EditStore</text></g>
<g id="v-product"><rect class="seg" x="3124" y="4806" width="239" height="139"/><text class="st" x="3242" y="4817.6">PRODUCT</text>
<rect class="cl" x="3132.7" y="4840" width="95.3" height="37"/><text class="g" x="3180" y="4858">AddProduct</text>
<rect class="cl" x="3248" y="4840" width="95.3" height="37"/><text class="g" x="3295" y="4858">ViewProduct</text>
<rect class="cl" x="3196" y="4888" width="95.3" height="37"/><text class="g" x="3242" y="4906">EditProduct</text></g>
<g id="v-category"><rect class="seg" x="3396" y="4804" width="241" height="138"/><text class="st" x="3516" y="4815">CATEGORY</text>
<rect class="cl" x="3407" y="4838" width="95" height="37"/><text class="g" x="3454" y="4856">AddCategory</text>
<rect class="cl" x="3522" y="4838" width="95" height="37"/><text class="g" x="3569" y="4856">EditCategory</text>
<rect class="cl" x="3469" y="4886" width="95" height="37"/><text class="g" x="3516" y="4904">ViewCategory</text></g>
<g id="v-computer"><rect class="seg" x="3124" y="4958" width="239" height="138"/><text class="st" x="3242" y="4969">COMPUTER</text>
<rect class="cl" x="3132.7" y="4991" width="95.3" height="38"/><text class="g" x="3180" y="5010">AddComputer</text>
<rect class="cl" x="3248" y="4991" width="95.3" height="38"/><text class="g" x="3295" y="5001">ViewCompute</text><text class="g" x="3295" y="5018">r</text>
<rect class="cl" x="3196" y="5039" width="95.3" height="37"/><text class="g" x="3242" y="5057">EditComputer</text></g>
<g id="v-sale"><rect class="seg" x="3396" y="4958" width="239" height="138"/><text class="st" x="3514" y="4969">SALE</text>
<rect class="cl" x="3404.6" y="4991" width="95.4" height="38"/><text class="g" x="3452" y="5001">BillManageme</text><text class="g" x="3452" y="5018">nt</text>
<rect class="cl" x="3520.7" y="4991" width="95.3" height="38"/><text class="g" x="3568" y="5010">PriceLog</text>
<rect class="cl" x="3467.7" y="5039" width="95.3" height="37"/><text class="g" x="3514" y="5057">Checkout</text></g>
<g id="v-user"><rect class="seg" x="3122.7" y="5109" width="239.6" height="138"/><text class="st" x="3242" y="5120.6">USER</text>
<rect class="cl" x="3132.7" y="5142" width="95.3" height="38"/><text class="g" x="3180" y="5161">AddUser</text>
<rect class="cl" x="3248" y="5142" width="95.3" height="38"/><text class="g" x="3295" y="5161">ViewUser</text>
<rect class="cl" x="3195" y="5189.5" width="95.3" height="38.5"/><text class="g" x="3242" y="5209">EditUser</text></g>
<g id="v-loyal"><rect class="seg" x="3397" y="5109" width="240" height="138"/><text class="st" x="3516" y="5120.6">LOYALMEMBER</text>
<rect class="cl" x="3407" y="5142" width="95" height="38"/><text class="g" x="3454" y="5152">AddLoyalMem</text><text class="g" x="3454" y="5169">ber</text>
<rect class="cl" x="3522" y="5142" width="95" height="38"/><text class="g" x="3569" y="5152">ViewLoyalMe</text><text class="g" x="3569" y="5169">mber</text>
<rect class="cl" x="3469" y="5189.5" width="95" height="38.5"/><text class="g" x="3516" y="5199">EditLoyalMem</text><text class="g" x="3516" y="5217">ber</text></g>
<g id="v-statistics"><rect class="seg" x="3254" y="5261" width="247" height="116"/><text class="st" x="3376" y="5274">STATISTICS</text>
<rect class="cl" x="3325" y="5306" width="95" height="37"/><text class="g" x="3372" y="5324">Statistics</text></g>
</g>
<g id="controller-layer">
<rect class="seg" x="3972.5" y="4227" width="422.5" height="579"/>
<text class="big" x="4183" y="4243">CONTROLLER</text>
<rect class="cl" x="4012" y="4316" width="95" height="71"/><text class="g" x="4059" y="4342">ProductContro</text><text class="g" x="4059" y="4359">llers</text>
<rect class="cl" x="4010.7" y="4414" width="95" height="71"/><text class="g" x="4058" y="4440">CategoryContr</text><text class="g" x="4058" y="4457">ollers</text>
<rect class="cl" x="4010.7" y="4510" width="95" height="71"/><text class="g" x="4058" y="4536">StatisticContro</text><text class="g" x="4058" y="4553">llers</text>
<rect class="cl" x="4136" y="4510" width="95" height="71"/><text class="g" x="4183" y="4536">ComputerCont</text><text class="g" x="4183" y="4553">rollers</text>
<rect class="cl" x="4010.7" y="4600" width="95" height="71"/><text class="g" x="4058" y="4626">SaleController</text><text class="g" x="4058" y="4643">s</text>
<rect class="cl" x="4136" y="4600" width="95" height="71"/><text class="g" x="4183" y="4626">StoreCategory</text><text class="g" x="4183" y="4643">Controllers</text>
<rect class="cl" x="4010.7" y="4696" width="95" height="71"/><text class="g" x="4058" y="4722">StoreControlle</text><text class="g" x="4058" y="4739">rs</text>
<rect class="cl" x="4131" y="4696" width="95" height="71"/><text class="g" x="4178" y="4722">LoyalMember</text><text class="g" x="4178" y="4739">Controllers</text>
<rect class="cl" x="4256" y="4696" width="95" height="71"/><text class="g" x="4303" y="4722">UserController</text><text class="g" x="4303" y="4739">s</text>
</g>
<g id="model-layer">
<rect class="seg" x="3877" y="5152" width="711" height="270"/>
<text class="big" x="4231" y="5167">MODEL</text>
<rect class="cl" x="3916" y="5240" width="95" height="71"/><text class="g" x="3963" y="5266">ProductModel</text><text class="g" x="3963" y="5283">s</text>
<rect class="cl" x="4040" y="5240" width="95" height="71"/><text class="g" x="4087" y="5275">SaleModels</text>
<rect class="cl" x="4165" y="5240" width="95" height="71"/><text class="g" x="4212" y="5275">StoreModels</text>
<rect class="cl" x="4290" y="5240" width="95" height="71"/><text class="g" x="4337" y="5266">LoyalMember</text><text class="g" x="4337" y="5283">Models</text>
<rect class="cl" x="4415" y="5240" width="95" height="71"/><text class="g" x="4462" y="5275">UserModels</text>
<rect class="cl" x="3916" y="5339" width="95" height="71"/><text class="g" x="3963" y="5373">DBContext</text>
<rect class="cl" x="4040" y="5339" width="95" height="71"/><text class="g" x="4087" y="5365">CategoryMode</text><text class="g" x="4087" y="5382">ls</text>
<rect class="cl" x="4165" y="5339" width="95" height="71"/><text class="g" x="4212" y="5365">StatisticModel</text><text class="g" x="4212" y="5382">s</text>
<rect class="cl" x="4290" y="5339" width="95" height="71"/><text class="g" x="4337" y="5365">StoreCategory</text><text class="g" x="4337" y="5382">Models</text>
<rect class="cl" x="4415" y="5339" width="95" height="71"/><text class="g" x="4462" y="5365">ComputerMod</text><text class="g" x="4462" y="5382">els</text>
</g>
<g id="mvc-legend">
<rect x="3640.6" y="5497" width="631.4" height="157" rx="14" fill="url(#gOr)" stroke="#444" stroke-width="1.2"/>
<path d="M3640.6 5524V5511Q3640.6 5497 3654.6 5497H4258Q4272 5497 4272 5511V5524Z" fill="url(#gGy)" stroke="#444" stroke-width="1.2"/>
<text class="ul" x="3956" y="5511" font-size="19" font-weight="500">LEGEND</text>
<rect x="3698" y="5545" width="85.5" height="27" fill="url(#gLy)"/><rect x="3698" y="5572" width="85.5" height="36" fill="url(#gLy)"/>
<rect x="3827" y="5545" width="109" height="64" fill="url(#gSeg)"/>
<rect class="cl" x="3979.5" y="5547" width="101.5" height="57"/>
<path class="mv" d="M4228.6 5587V5605H4127"/>
<text x="3745" y="5627" font-size="19">Layer</text>
<text x="3881" y="5627" font-size="19">Layer Segment</text>
<text x="4030" y="5627" font-size="19">Class</text>
<text x="4179.5" y="5626" font-size="19">Allowed to use</text>
</g>

<g id="thick-arrows">
<path class="thick" d="M1987 777H2003V1131H2020L1995.5 1155L1971 1131H1987Z"/>
<path class="thick" d="M2404 1939H2985V1923L3008 1948L2985 1972V1955H2404Z"/>
<path class="thick" d="M3883 3943H3900V4150H3916L3892 4180L3868 4150H3883Z"/>
</g>
</svg>
